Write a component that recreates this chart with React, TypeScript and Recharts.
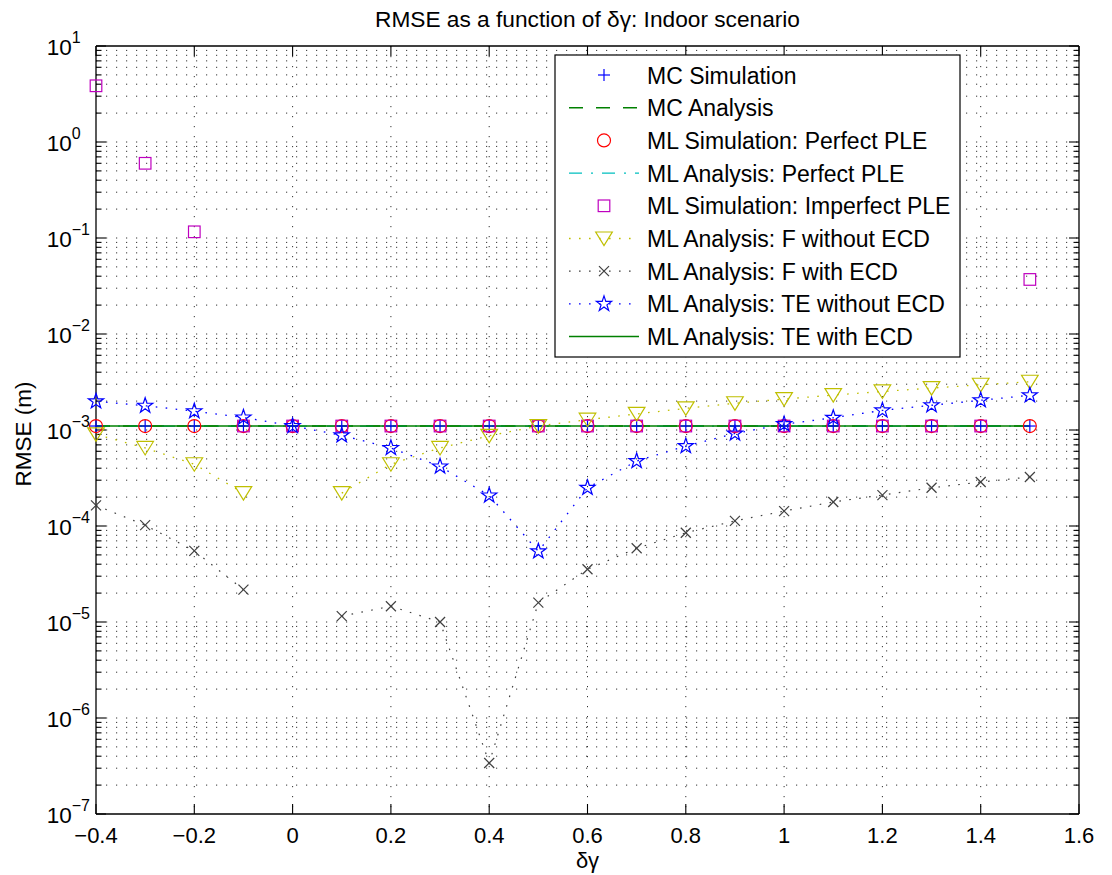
import React from 'react';
import { ComposedChart, Line, XAxis, YAxis, ReferenceLine } from 'recharts';

const FONT = '"Liberation Sans", Arial, Helvetica, sans-serif';

// ---------- data ----------
const deltaGamma = [-0.4, -0.3, -0.2, -0.1, 0, 0.1, 0.2, 0.3, 0.4, 0.5, 0.6, 0.7, 0.8, 0.9, 1.0, 1.1, 1.2, 1.3, 1.4, 1.5];

const mcSimulation = [1.1e-3, 1.1e-3, 1.1e-3, 1.1e-3, 1.1e-3, 1.1e-3, 1.1e-3, 1.1e-3, 1.1e-3, 1.1e-3, 1.1e-3, 1.1e-3, 1.1e-3, 1.1e-3, 1.1e-3, 1.1e-3, 1.1e-3, 1.1e-3, 1.1e-3, 1.1e-3];
const mcAnalysis = [1.1e-3, 1.1e-3, 1.1e-3, 1.1e-3, 1.1e-3, 1.1e-3, 1.1e-3, 1.1e-3, 1.1e-3, 1.1e-3, 1.1e-3, 1.1e-3, 1.1e-3, 1.1e-3, 1.1e-3, 1.1e-3, 1.1e-3, 1.1e-3, 1.1e-3, 1.1e-3];
const mlSimPerfect = [1.1e-3, 1.1e-3, 1.1e-3, 1.1e-3, 1.1e-3, 1.1e-3, 1.1e-3, 1.1e-3, 1.1e-3, 1.1e-3, 1.1e-3, 1.1e-3, 1.1e-3, 1.1e-3, 1.1e-3, 1.1e-3, 1.1e-3, 1.1e-3, 1.1e-3, 1.1e-3];
const mlAnaPerfect = [1.1e-3, 1.1e-3, 1.1e-3, 1.1e-3, 1.1e-3, 1.1e-3, 1.1e-3, 1.1e-3, 1.1e-3, 1.1e-3, 1.1e-3, 1.1e-3, 1.1e-3, 1.1e-3, 1.1e-3, 1.1e-3, 1.1e-3, 1.1e-3, 1.1e-3, 1.1e-3];
const mlSimImperfect = [3.85, 0.6, 0.116, 1.1e-3, 1.1e-3, 1.1e-3, 1.1e-3, 1.1e-3, 1.1e-3, 1.1e-3, 1.1e-3, 1.1e-3, 1.1e-3, 1.1e-3, 1.1e-3, 1.1e-3, 1.1e-3, 1.1e-3, 1.1e-3, 0.037];
const fWithoutEcd = [9.0e-4, 6.5e-4, 4.4e-4, 2.2e-4, null, 2.2e-4, 4.4e-4, 6.5e-4, 8.7e-4, 1.1e-3, 1.28e-3, 1.47e-3, 1.68e-3, 1.9e-3, 2.1e-3, 2.31e-3, 2.52e-3, 2.73e-3, 2.96e-3, 3.18e-3];
const fWithEcd = [1.64e-4, 1.02e-4, 5.5e-5, 2.17e-5, null, 1.15e-5, 1.46e-5, 1.0e-5, 3.4e-7, 1.59e-5, 3.54e-5, 5.86e-5, 8.5e-5, 1.13e-4, 1.43e-4, 1.78e-4, 2.1e-4, 2.5e-4, 2.87e-4, 3.24e-4];
const teWithoutEcd = [1.99e-3, 1.79e-3, 1.57e-3, 1.35e-3, 1.1e-3, 8.8e-4, 6.5e-4, 4.17e-4, 2.08e-4, 5.45e-5, 2.5e-4, 4.75e-4, 6.8e-4, 9.2e-4, 1.15e-3, 1.34e-3, 1.6e-3, 1.81e-3, 2.04e-3, 2.3e-3];
const teWithEcd = [1.1e-3, 1.1e-3, 1.1e-3, 1.1e-3, 1.1e-3, 1.1e-3, 1.1e-3, 1.1e-3, 1.1e-3, 1.1e-3, 1.1e-3, 1.1e-3, 1.1e-3, 1.1e-3, 1.1e-3, 1.1e-3, 1.1e-3, 1.1e-3, 1.1e-3, 1.1e-3];

const xTicks = [-0.4, -0.2, 0, 0.2, 0.4, 0.6, 0.8, 1, 1.2, 1.4, 1.6];
const yExponents = [-7, -6, -5, -4, -3, -2, -1, 0, 1];
const minorMultipliers = [2, 3, 4, 5, 6, 7, 8, 9];

const titleText = 'RMSE as a function of δγ: Indoor scenario';
const xLabelText = 'δγ';
const yLabelText = 'RMSE (m)';

const yDecades = yExponents.map((e) => Math.pow(10, e));
const yMinors: number[] = [];
yExponents.slice(0, -1).forEach((e) => minorMultipliers.forEach((m) => yMinors.push(m * Math.pow(10, e))));

const data = deltaGamma.map((x, i) => ({
  x,
  mcSim: mcSimulation[i],
  mcAna: mcAnalysis[i],
  mlSimP: mlSimPerfect[i],
  mlAnaP: mlAnaPerfect[i],
  mlSimI: mlSimImperfect[i],
  fNo: fWithoutEcd[i],
  fYes: fWithEcd[i],
  teNo: teWithoutEcd[i],
  teYes: teWithEcd[i],
}));

// ---------- markers ----------
type MK = 'plus' | 'circle' | 'square' | 'tri' | 'cross' | 'star' | null;

function Marker({ kind, cx, cy, color }: { kind: MK; cx: number; cy: number; color: string }) {
  const sw = 1.2;
  switch (kind) {
    case 'plus':
      return (
        <g stroke={color} strokeWidth={sw} fill="none">
          <line x1={cx - 6} x2={cx + 6} y1={cy} y2={cy} />
          <line x1={cx} x2={cx} y1={cy - 6} y2={cy + 6} />
        </g>
      );
    case 'circle':
      return <circle cx={cx} cy={cy} r={6.5} stroke={color} strokeWidth={sw} fill="none" />;
    case 'square':
      return <rect x={cx - 5.8} y={cy - 5.8} width={11.6} height={11.6} stroke={color} strokeWidth={sw} fill="none" />;
    case 'tri':
      return (
        <polygon
          points={`${cx - 8.3},${cy - 6.5} ${cx + 8.3},${cy - 6.5} ${cx},${cy + 7}`}
          stroke={color}
          strokeWidth={sw}
          fill="none"
        />
      );
    case 'cross':
      return (
        <g stroke={color} strokeWidth={sw} fill="none">
          <line x1={cx - 5} x2={cx + 5} y1={cy - 5} y2={cy + 5} />
          <line x1={cx - 5} x2={cx + 5} y1={cy + 5} y2={cy - 5} />
        </g>
      );
    case 'star': {
      const pts: string[] = [];
      for (let k = 0; k < 10; k++) {
        const a = -Math.PI / 2 + (k * Math.PI) / 5;
        const r = k % 2 === 0 ? 8 : 3.1;
        pts.push(`${cx + r * Math.cos(a)},${cy + r * Math.sin(a)}`);
      }
      return <polygon points={pts.join(' ')} stroke={color} strokeWidth={sw} fill="none" />;
    }
    default:
      return null;
  }
}

const DOT = '1.6 8.4';

const SERIES: { key: string; name: string; color: string; stroke: boolean; dash?: string; width: number; marker: MK }[] = [
  { key: 'mcSim', name: 'MC Simulation', color: '#0000ff', stroke: false, width: 1, marker: 'plus' },
  { key: 'mcAna', name: 'MC Analysis', color: '#008000', stroke: true, dash: '14 13', width: 1.5, marker: null },
  { key: 'mlSimP', name: 'ML Simulation: Perfect PLE', color: '#ff0000', stroke: false, width: 1, marker: 'circle' },
  { key: 'mlAnaP', name: 'ML Analysis: Perfect PLE', color: '#00bfbf', stroke: true, dash: '13 9 2 9', width: 1.3, marker: null },
  { key: 'mlSimI', name: 'ML Simulation: Imperfect PLE', color: '#bf00bf', stroke: false, width: 1, marker: 'square' },
  { key: 'fNo', name: 'ML Analysis: F without ECD', color: '#bfbf00', stroke: true, dash: DOT, width: 1.3, marker: 'tri' },
  { key: 'fYes', name: 'ML Analysis: F with ECD', color: '#404040', stroke: true, dash: DOT, width: 1.2, marker: 'cross' },
  { key: 'teNo', name: 'ML Analysis: TE without ECD', color: '#0000ff', stroke: true, dash: DOT, width: 1.3, marker: 'star' },
  { key: 'teYes', name: 'ML Analysis: TE with ECD', color: '#008000', stroke: true, width: 1.5, marker: null },
];

// ---------- axes ticks ----------
const fmtX = (v: number) => {
  const s = String(Number(v.toFixed(1)));
  return s.replace('-', '\u2212');
};

const XTick = (p: any) => (
  <text x={p.x} y={p.y + 28.5} textAnchor="middle" fontFamily={FONT} fontSize={22} fill="#000">
    {fmtX(p.payload.value)}
  </text>
);

const YTick = (p: any) => {
  const e = Math.round(Math.log10(p.payload.value));
  const es = e < 0 ? '\u2212' + Math.abs(e) : String(e);
  return (
    <text x={p.x - 49.3} y={p.y + 9} textAnchor="start" fontFamily={FONT} fontSize={22.5} fill="#000">
      10
      <tspan dy={-11.7} fontSize={16}>
        {es}
      </tspan>
    </text>
  );
};

const GRID_COLOR = '#333';

const yLineShape = (major: boolean, grid: boolean) => (props: any) => {
  const x1 = Number(props.x1), x2 = Number(props.x2), y = Number(props.y1);
  const l = Math.min(x1, x2), r = Math.max(x1, x2);
  const len = major ? 10 : 5.5;
  return (
    <g>
      {grid && <line x1={l} x2={r} y1={y} y2={y} stroke={GRID_COLOR} strokeWidth={1} strokeDasharray="1.2 8.8" />}
      <line x1={l} x2={l + len} y1={y} y2={y} stroke="#000" strokeWidth={1.1} />
      <line x1={r - len} x2={r} y1={y} y2={y} stroke="#000" strokeWidth={1.1} />
    </g>
  );
};

const xLineShape = (grid: boolean) => (props: any) => {
  const y1 = Number(props.y1), y2 = Number(props.y2), x = Number(props.x1);
  const t = Math.min(y1, y2), b = Math.max(y1, y2);
  const len = 10;
  return (
    <g>
      {grid && <line x1={x} x2={x} y1={t} y2={b} stroke={GRID_COLOR} strokeWidth={1} strokeDasharray="1.2 8.8" />}
      <line x1={x} x2={x} y1={t} y2={t + len} stroke="#000" strokeWidth={1.1} />
      <line x1={x} x2={x} y1={b - len} y2={b} stroke="#000" strokeWidth={1.1} />
    </g>
  );
};

const makeDot = (s: (typeof SERIES)[number]) => (p: any) => {
  const k = `${s.key}-${p.index}`;
  if (p.cx == null || p.cy == null || p.value == null || isNaN(p.cy)) return <g key={k} />;
  return (
    <g key={k}>
      <Marker kind={s.marker} cx={p.cx} cy={p.cy} color={s.color} />
    </g>
  );
};

// ---------- legend ----------
const LG = { left: 555, top: 55, width: 405, height: 302, row0: 20, step: 32.7 };

function LegendBox() {
  return (
    <svg
      width={LG.width + 2}
      height={LG.height + 2}
      style={{ position: 'absolute', left: LG.left - 1, top: LG.top - 1, pointerEvents: 'none' }}
    >
      <rect x={1} y={1} width={LG.width} height={LG.height} fill="#fff" stroke="#000" strokeWidth={1.2} />
      {SERIES.map((s, i) => {
        const cy = 1 + LG.row0 + i * LG.step;
        return (
          <g key={s.key}>
            {s.stroke && (
              <line x1={15} x2={85} y1={cy} y2={cy} stroke={s.color} strokeWidth={s.width} strokeDasharray={s.dash} />
            )}
            {s.marker && <Marker kind={s.marker} cx={50} cy={cy} color={s.color} />}
            <text x={93} y={cy + 8.5} fontFamily={FONT} fontSize={23} fill="#000">
              {s.name}
            </text>
          </g>
        );
      })}
    </svg>
  );
}

export default function App() {
  return (
    <div style={{ position: 'absolute', left: 0, top: 0, width: 1112, height: 875, background: '#fff' }}>
      <ComposedChart width={1112} height={875} data={data} margin={{ top: 46, right: 33, bottom: 0, left: 0 }}>
        <XAxis
          dataKey="x"
          type="number"
          domain={[-0.4, 1.6]}
          ticks={xTicks}
          interval={0}
          height={61}
          tickSize={0}
          tickMargin={0}
          tickLine={false}
          axisLine={{ stroke: '#000', strokeWidth: 1.3 }}
          tick={XTick}
        />
        <YAxis
          type="number"
          scale="log"
          domain={[1e-7, 10]}
          ticks={yDecades}
          interval={0}
          width={96}
          tickSize={0}
          tickMargin={0}
          tickLine={false}
          axisLine={{ stroke: '#000', strokeWidth: 1.3 }}
          tick={YTick}
        />
        {yMinors.map((v) => (
          <ReferenceLine key={`ym${v}`} y={v} ifOverflow="visible" shape={yLineShape(false, true)} />
        ))}
        {yDecades.map((v, i) => (
          <ReferenceLine
            key={`yM${v}`}
            y={v}
            ifOverflow="visible"
            shape={yLineShape(true, i > 0 && i < yDecades.length - 1)}
          />
        ))}
        {xTicks.map((v, i) => (
          <ReferenceLine key={`xM${v}`} x={v} ifOverflow="visible" shape={xLineShape(i > 0 && i < xTicks.length - 1)} />
        ))}
        <ReferenceLine y={10} ifOverflow="visible" stroke="#000" strokeWidth={1.3} />
        <ReferenceLine x={1.6} ifOverflow="visible" stroke="#000" strokeWidth={1.3} />
        {SERIES.map((s) => (
          <Line
            key={s.key}
            dataKey={s.key}
            type="linear"
            stroke={s.stroke ? s.color : 'none'}
            strokeWidth={s.width}
            strokeDasharray={s.dash}
            dot={s.marker ? makeDot(s) : false}
            activeDot={false}
            connectNulls={false}
            isAnimationActive={false}
          />
        ))}
      </ComposedChart>
      <svg width={1112} height={875} style={{ position: 'absolute', left: 0, top: 0, pointerEvents: 'none' }}>
        <text x={587.5} y={27} textAnchor="middle" fontFamily={FONT} fontSize={22.7} fill="#000">
          {titleText}
        </text>
        <text x={587.5} y={868} textAnchor="middle" fontFamily={FONT} fontSize={22} fill="#000">
          {xLabelText}
        </text>
        <text
          x={31}
          y={434}
          textAnchor="middle"
          fontFamily={FONT}
          fontSize={22.5}
          fill="#000"
          transform="rotate(-90 31 434)"
        >
          {yLabelText}
        </text>
      </svg>
      <LegendBox />
    </div>
  );
}
